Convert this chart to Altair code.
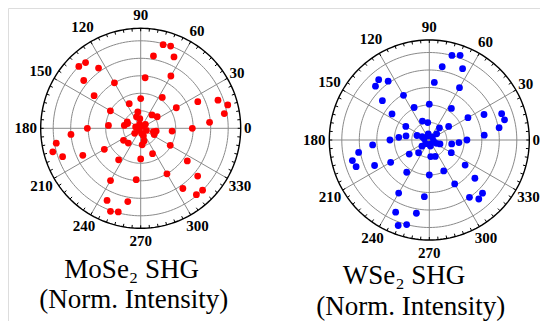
import altair as alt
import pandas as pd
import numpy as np

# ---- data -------------------------------------------------------------
ANGLES = list(range(0, 360, 5))  # polarization angle (deg)

MOSE2 = [0.59, 0.79, 0.97, 1.03, 0.94, 0.72, 0.47, 0.23, 0.07, 0.03, 0.20, 0.43,
         0.69, 0.90, 1.00, 0.99, 0.84, 0.58, 0.34, 0.11, 0.19, 0.05, 0.14, 0.31,
         0.60, 0.84, 0.98, 1.00, 0.85, 0.65, 0.40, 0.17, 0.16, 0.06, 0.19, 0.37,
         0.61, 0.80, 0.98, 1.04, 0.95, 0.73, 0.48, 0.24, 0.09, 0.03, 0.22, 0.44,
         0.69, 0.91, 1.01, 0.99, 0.85, 0.59, 0.35, 0.19, 0.06, 0.15, 0.09, 0.32,
         0.60, 0.84, 0.99, 1.00, 0.85, 0.65, 0.39, 0.17, 0.07, 0.15, 0.18, 0.36]

WSE2 = [0.43, 0.63, 0.81, 0.89, 0.88, 0.69, 0.51, 0.27, 0.11, 0.05, 0.18, 0.44,
        0.69, 0.90, 1.03, 1.00, 0.85, 0.66, 0.41, 0.20, 0.07, 0.05, 0.23, 0.41,
        0.59, 0.82, 0.90, 0.87, 0.70, 0.52, 0.31, 0.09, 0.15, 0.06, 0.27, 0.35,
        0.45, 0.65, 0.82, 0.91, 0.89, 0.69, 0.51, 0.28, 0.11, 0.06, 0.19, 0.45,
        0.70, 0.91, 1.04, 1.00, 0.85, 0.65, 0.40, 0.19, 0.07, 0.05, 0.20, 0.39,
        0.58, 0.80, 0.88, 0.86, 0.68, 0.50, 0.29, 0.09, 0.13, 0.05, 0.26, 0.34]

RING_LEVELS = [0.2, 0.4, 0.6, 0.8, 1.0]
R_OUTER = 1.1429
SPOKE_ANGLES = list(range(0, 360, 30))
SPOKE_LABELS = [str(a) for a in SPOKE_ANGLES]
MINOR_TICKS = list(range(0, 360, 5))
TITLES = ["MoSe\u2082 SHG", "WSe\u2082 SHG"]
SUBTITLE = "(Norm. Intensity)"
COLORS = ["#ff0000", "#0000ff"]

# ---- layout -------------------------------------------------------------
W, H = 532, 313
K = 87.5                      # px per intensity unit
CX = [132.7, 421.3]
CY = [120.3, 132.0]
TITLE_POS = {0: [(123.7, 270.3), (125.7, 300.3)],
             1: [(396.0, 276.0), (402.8, 306.5)]}

def cx():
    return f"(datum.panel == 0 ? {CX[0]} : {CX[1]})"

def cy():
    return f"(datum.panel == 0 ? {CY[0]} : {CY[1]})"

def px(r, a):
    return f"{cx()} + {K}*({r})*cos(({a})*PI/180)"

def py(r, a):
    return f"{cy()} - {K}*({r})*sin(({a})*PI/180)"

xs = alt.Scale(domain=[0, W], nice=False, zero=False)
ys = alt.Scale(domain=[0, H], nice=False, zero=False, reverse=True)

# ---- tables --------------------------------------------------------------
pts = pd.DataFrame({
    "panel": [0] * len(ANGLES) + [1] * len(ANGLES),
    "angle": ANGLES + ANGLES,
    "intensity": MOSE2 + WSE2,
})

circ_ang = np.arange(0, 361, 2)
ring_rows = []
for p in (0, 1):
    for lv in RING_LEVELS + [R_OUTER]:
        for a in circ_ang:
            ring_rows.append({"panel": p, "level": lv, "a": float(a),
                              "outer": lv == R_OUTER})
rings = pd.DataFrame(ring_rows)

spokes = pd.DataFrame([{"panel": p, "a": a, "label": l}
                       for p in (0, 1) for a, l in zip(SPOKE_ANGLES, SPOKE_LABELS)])
ticks = pd.DataFrame([{"panel": p, "a": a} for p in (0, 1) for a in MINOR_TICKS])

title_rows = []
for p in (0, 1):
    for i, txt in enumerate([TITLES[p], SUBTITLE]):
        tx, ty = TITLE_POS[p][i]
        title_rows.append({"panel": p, "text": txt, "tx": tx, "ty": ty})
titles = pd.DataFrame(title_rows)

# ---- layers --------------------------------------------------------------
ring_base = alt.Chart(rings).transform_calculate(
    x=px("datum.level", "datum.a"), y=py("datum.level", "datum.a"))

inner_rings = ring_base.transform_filter("!datum.outer").mark_line(
    stroke="#8a8a8a", strokeWidth=1).encode(
    x=alt.X("x:Q", scale=xs, axis=None),
    y=alt.Y("y:Q", scale=ys, axis=None),
    detail=["panel:N", "level:Q"], order="a:Q")

spoke_layer = alt.Chart(spokes).transform_calculate(
    x=px(0, "datum.a"), y=py(0, "datum.a"),
    x2=px(R_OUTER, "datum.a"), y2=py(R_OUTER, "datum.a")
).mark_rule(stroke="#8a8a8a", strokeWidth=1).encode(
    x=alt.X("x:Q", scale=xs, axis=None), y=alt.Y("y:Q", scale=ys, axis=None),
    x2="x2:Q", y2="y2:Q")

tick_layer = alt.Chart(ticks).transform_calculate(
    x=px(R_OUTER, "datum.a"), y=py(R_OUTER, "datum.a"),
    x2=px(R_OUTER - 3.0 / K, "datum.a"), y2=py(R_OUTER - 3.0 / K, "datum.a")
).mark_rule(stroke="black", strokeWidth=1).encode(
    x=alt.X("x:Q", scale=xs, axis=None), y=alt.Y("y:Q", scale=ys, axis=None),
    x2="x2:Q", y2="y2:Q")

outer_ring = ring_base.transform_filter("datum.outer").mark_line(
    stroke="black", strokeWidth=1.4).encode(
    x=alt.X("x:Q", scale=xs, axis=None),
    y=alt.Y("y:Q", scale=ys, axis=None),
    detail=["panel:N", "level:Q"], order="a:Q")

point_layer = alt.Chart(pts).transform_calculate(
    x=px("datum.intensity", "datum.angle"), y=py("datum.intensity", "datum.angle")
).mark_circle(size=46, opacity=1).encode(
    x=alt.X("x:Q", scale=xs, axis=None), y=alt.Y("y:Q", scale=ys, axis=None),
    color=alt.Color("panel:N", scale=alt.Scale(domain=[0, 1], range=COLORS), legend=None))

label_layer = alt.Chart(spokes).transform_calculate(
    rl=f"(103 + 4*length(datum.label) + 2.5*pow(sin(datum.a*PI/180), 3))/{K}"
).transform_calculate(
    x=px("datum.rl", "datum.a"), y=py("datum.rl", "datum.a")
).mark_text(font="Liberation Serif", fontWeight="bold", fontSize=15,
            align="center", baseline="middle", color="black").encode(
    x=alt.X("x:Q", scale=xs, axis=None), y=alt.Y("y:Q", scale=ys, axis=None),
    text="label:N")

title_layer = alt.Chart(titles).mark_text(
    font="Liberation Serif", fontSize=27, align="center", baseline="alphabetic",
    color="black").encode(
    x=alt.X("tx:Q", scale=xs, axis=None), y=alt.Y("ty:Q", scale=ys, axis=None),
    text="text:N")

chart = alt.layer(inner_rings, spoke_layer, tick_layer, outer_ring, point_layer,
                  label_layer, title_layer).properties(
    width=W, height=H, padding=0,
    autosize=alt.AutoSizeParams(type="none")
).configure_view(stroke=None).configure(background="white")

chart.save("out.html", embed_options={"renderer": "svg", "actions": False})
